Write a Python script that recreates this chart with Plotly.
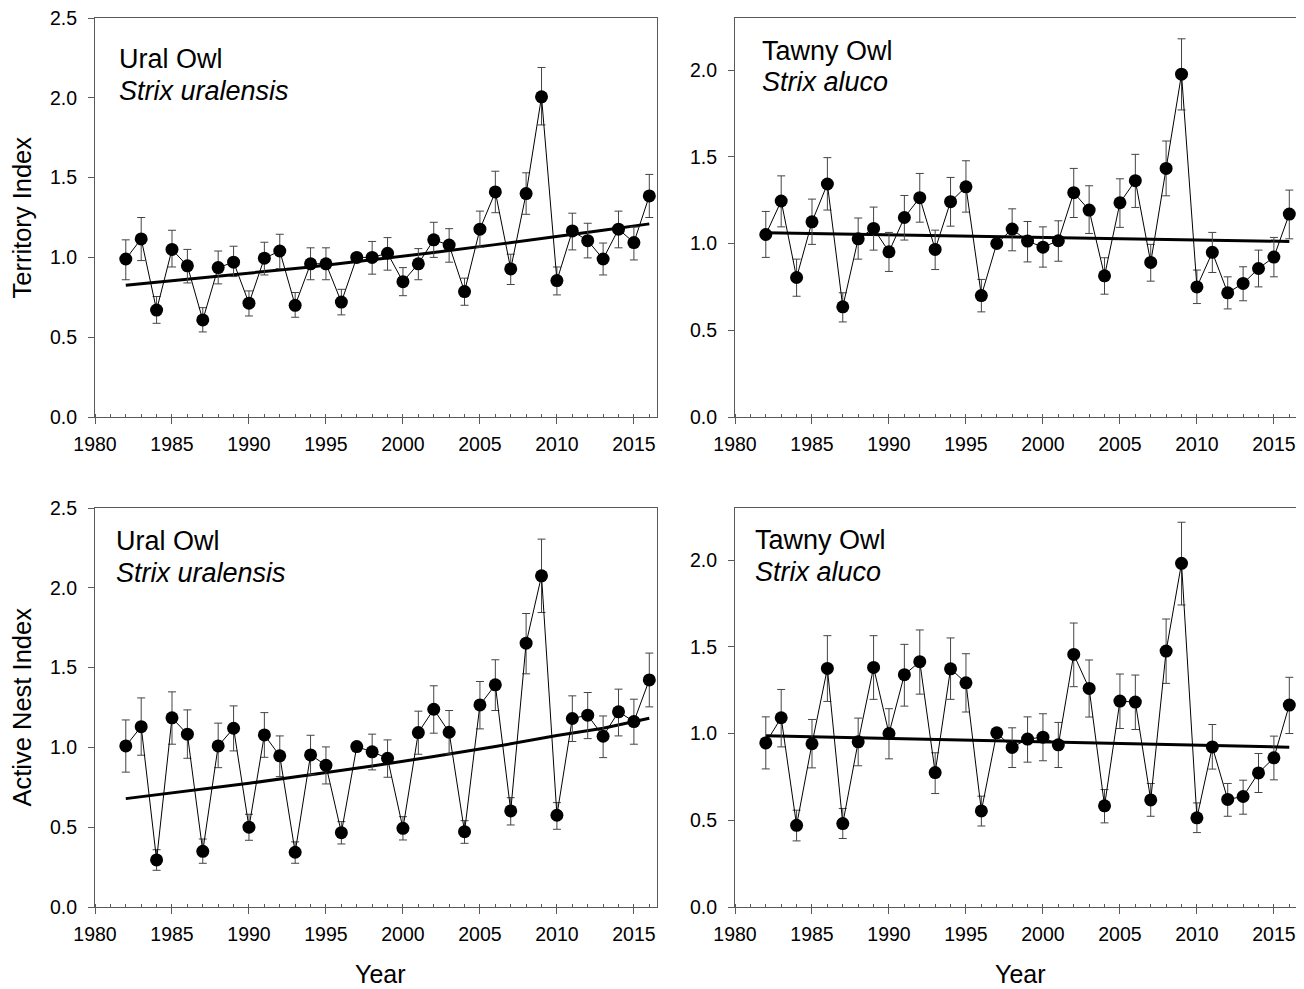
import plotly.graph_objects as go

# ---------------- data ----------------
years = list(range(1982, 2017))

ural_terr = [0.99, 1.116, 0.67, 1.05, 0.947, 0.608, 0.936, 0.97, 0.713, 0.995, 1.04, 0.70, 0.96, 0.96, 0.72, 1.00, 1.00,
             1.026, 0.848, 0.96, 1.11, 1.077, 0.786, 1.177, 1.41, 0.928, 1.40, 2.006, 0.855, 1.166, 1.105, 0.99, 1.177, 1.093, 1.385]
ural_terr_hi = [1.11, 1.25, 0.755, 1.17, 1.05, 0.685, 1.04, 1.07, 0.79, 1.095, 1.145, 0.78, 1.06, 1.06, 0.80, 1.00, 1.10,
                1.124, 0.936, 1.055, 1.22, 1.18, 0.87, 1.29, 1.54, 1.02, 1.53, 2.19, 0.94, 1.277, 1.214, 1.09, 1.29, 1.19, 1.52]
ural_terr_lo = [0.86, 0.98, 0.587, 0.94, 0.84, 0.533, 0.834, 0.88, 0.633, 0.89, 0.93, 0.625, 0.86, 0.86, 0.64, 1.00, 0.895,
                0.92, 0.76, 0.86, 1.00, 0.97, 0.70, 1.064, 1.28, 0.83, 1.27, 1.83, 0.765, 1.047, 0.997, 0.89, 1.06, 0.984, 1.25]

tawny_terr = [1.052, 1.245, 0.804, 1.125, 1.343, 0.635, 1.027, 1.087, 0.952, 1.15, 1.264, 0.966, 1.241, 1.327, 0.70, 1.00, 1.083,
              1.014, 0.979, 1.016, 1.293, 1.193, 0.814, 1.235, 1.362, 0.891, 1.433, 1.976, 0.75, 0.949, 0.716, 0.77, 0.856, 0.922, 1.17]
tawny_terr_hi = [1.185, 1.39, 0.91, 1.256, 1.495, 0.716, 1.147, 1.21, 1.064, 1.277, 1.404, 1.077, 1.381, 1.477, 0.793, 1.00, 1.20,
                 1.127, 1.096, 1.131, 1.433, 1.333, 0.918, 1.373, 1.514, 0.995, 1.591, 2.18, 0.847, 1.064, 0.808, 0.866, 0.962, 1.035, 1.308]
tawny_terr_lo = [0.92, 1.096, 0.696, 0.995, 1.193, 0.548, 0.91, 0.962, 0.839, 1.02, 1.123, 0.85, 1.10, 1.181, 0.606, 1.00, 0.958,
                 0.894, 0.864, 0.898, 1.15, 1.058, 0.708, 1.093, 1.208, 0.783, 1.275, 1.77, 0.654, 0.833, 0.623, 0.67, 0.75, 0.808, 1.027]

ural_nest = [1.009, 1.13, 0.295, 1.185, 1.083, 0.349, 1.009, 1.12, 0.50, 1.078, 0.947, 0.343, 0.953, 0.888, 0.466, 1.005, 0.972,
             0.932, 0.493, 1.093, 1.239, 1.095, 0.472, 1.266, 1.392, 0.602, 1.653, 2.075, 0.575, 1.181, 1.202, 1.07, 1.223, 1.162, 1.423]
ural_nest_hi = [1.172, 1.31, 0.359, 1.348, 1.235, 0.426, 1.152, 1.26, 0.581, 1.218, 1.072, 0.408, 1.076, 1.003, 0.535, 1.005, 1.083,
                1.047, 0.566, 1.227, 1.386, 1.231, 0.541, 1.413, 1.549, 0.685, 1.839, 2.305, 0.654, 1.323, 1.344, 1.197, 1.365, 1.302, 1.591]
ural_nest_lo = [0.845, 0.951, 0.23, 1.02, 0.932, 0.274, 0.873, 0.978, 0.418, 0.938, 0.817, 0.274, 0.828, 0.771, 0.395, 1.005, 0.859,
                0.813, 0.42, 0.957, 1.089, 0.959, 0.399, 1.116, 1.231, 0.514, 1.461, 1.845, 0.487, 1.037, 1.055, 0.936, 1.072, 1.02, 1.254]

tawny_nest = [0.946, 1.091, 0.471, 0.941, 1.375, 0.481, 0.952, 1.381, 1.0, 1.339, 1.414, 0.775, 1.373, 1.292, 0.554, 1.004, 0.92,
              0.968, 0.979, 0.935, 1.456, 1.26, 0.583, 1.187, 1.181, 0.617, 1.475, 1.981, 0.514, 0.923, 0.62, 0.637, 0.773, 0.86, 1.164]
tawny_nest_hi = [1.096, 1.254, 0.558, 1.081, 1.564, 0.568, 1.089, 1.564, 1.143, 1.514, 1.597, 0.889, 1.551, 1.46, 0.639, 1.004, 1.033,
                 1.096, 1.114, 1.064, 1.637, 1.424, 0.677, 1.343, 1.337, 0.712, 1.66, 2.218, 0.60, 1.052, 0.712, 0.731, 0.885, 0.985, 1.324]
tawny_nest_lo = [0.796, 0.923, 0.381, 0.802, 1.185, 0.395, 0.814, 1.197, 0.854, 1.158, 1.227, 0.654, 1.197, 1.124, 0.467, 1.004, 0.804,
                 0.835, 0.843, 0.804, 1.27, 1.095, 0.485, 1.029, 1.023, 0.523, 1.289, 1.741, 0.429, 0.795, 0.523, 0.535, 0.66, 0.733, 1.0]

trend_years = [1982, 1986, 1990, 1994, 1998, 2002, 2006, 2010, 2013, 2016]
ural_terr_trend = [0.825, 0.862, 0.90, 0.94, 0.985, 1.03, 1.08, 1.13, 1.17, 1.21]
tawny_terr_trend = [1.062, 1.056, 1.050, 1.044, 1.038, 1.033, 1.027, 1.021, 1.016, 1.012]
ural_nest_trend = [0.679, 0.725, 0.775, 0.828, 0.883, 0.943, 1.005, 1.075, 1.12, 1.183]
tawny_nest_trend = [0.987, 0.979, 0.971, 0.963, 0.956, 0.948, 0.940, 0.932, 0.927, 0.921]

x_ticks = [1980, 1985, 1990, 1995, 2000, 2005, 2010, 2015]
common_names = ["Ural Owl", "Tawny Owl", "Ural Owl", "Tawny Owl"]
latin_names = ["Strix uralensis", "Strix aluco", "Strix uralensis", "Strix aluco"]
y_titles = ["Territory Index", "Active Nest Index"]
x_title = "Year"

# ---------------- layout helpers ----------------
# the page body has an 8px margin, so the figure starts at (8, 8) of the window
OFF = 8
W, H = 1304 - OFF, 989 - OFF
FONT = "Liberation Sans, Arial, sans-serif"
AXC = "#5a5a5a"


def px_x(p):
    return (p - OFF) / W


def px_y(p):
    return 1 - (p - OFF) / H


# panels: (left, right, top, bottom) in window pixels, y max
panels = [
    (95, 657, 18, 417, 2.5),
    (735, 1297, 18, 417, 2.3),
    (95, 657, 508, 907, 2.5),
    (735, 1297, 508, 907, 2.3),
]

series = [
    (ural_terr, ural_terr_hi, ural_terr_lo, ural_terr_trend),
    (tawny_terr, tawny_terr_hi, tawny_terr_lo, tawny_terr_trend),
    (ural_nest, ural_nest_hi, ural_nest_lo, ural_nest_trend),
    (tawny_nest, tawny_nest_hi, tawny_nest_lo, tawny_nest_trend),
]

# title offsets (left offset from axis, cap-centre offsets from panel top)
title_pos = [(22, 41, 73), (25, 33, 64), (19, 33, 65), (18, 32, 64)]

fig = go.Figure()
layout = dict(
    width=W, height=H, autosize=False,
    margin=dict(l=0, r=0, t=0, b=0, pad=0, autoexpand=False),
    paper_bgcolor="white", plot_bgcolor="white",
    showlegend=False,
    font=dict(family=FONT, color="black", size=19.5),
)
annotations = []

for i, ((l, r, t, b, ymax), (vals, hi, lo, trend)) in enumerate(zip(panels, series)):
    n = "" if i == 0 else str(i + 1)
    xa, ya = "x" + n, "y" + n
    plus = [h - v for h, v in zip(hi, vals)]
    minus = [v - q for v, q in zip(vals, lo)]

    fig.add_trace(go.Scatter(
        x=trend_years, y=trend, mode="lines", xaxis=xa, yaxis=ya,
        line=dict(color="black", width=3), hoverinfo="skip"))
    fig.add_trace(go.Scatter(
        x=years, y=vals, mode="lines+markers", xaxis=xa, yaxis=ya,
        line=dict(color="black", width=1),
        marker=dict(color="black", size=13),
        error_y=dict(type="data", symmetric=False, array=plus, arrayminus=minus,
                     color="#444444", thickness=1, width=4)))

    layout["xaxis" + n] = dict(
        domain=[px_x(l), px_x(r)], anchor=ya, range=[1980, 2016.5], automargin=False,
        tickvals=x_ticks, ticks="outside", ticklen=6, tickwidth=1, tickcolor=AXC,
        ticklabelstandoff=4, ticklabeloverflow="allow",
        showline=True, linecolor=AXC, linewidth=1, mirror=True,
        showgrid=False, zeroline=False,
        minor=dict(dtick=1, tick0=1980, ticks="inside", ticklen=3, tickcolor=AXC, tickwidth=1, showgrid=False),
        tickfont=dict(size=19.5, family=FONT, color="black"),
    )
    layout["yaxis" + n] = dict(
        domain=[px_y(b), px_y(t)], anchor=xa, range=[0, ymax], automargin=False,
        tickvals=[k * 0.5 for k in range(6) if k * 0.5 <= ymax + 1e-9], tickformat=".1f",
        ticks="outside", ticklen=6, tickwidth=1, tickcolor=AXC,
        ticklabelstandoff=7, ticklabeloverflow="allow",
        showline=True, linecolor=AXC, linewidth=1, mirror=True,
        showgrid=False, zeroline=False,
        tickfont=dict(size=19.5, family=FONT, color="black"),
    )

    dx, c1, c2 = title_pos[i]
    annotations.append(dict(
        text=common_names[i], x=px_x(l + dx), y=px_y(t + c1), xref="paper", yref="paper",
        xanchor="left", yanchor="middle", showarrow=False,
        font=dict(size=27, family=FONT, color="black")))
    annotations.append(dict(
        text="<i>" + latin_names[i] + "</i>", x=px_x(l + dx), y=px_y(t + c2), xref="paper", yref="paper",
        xanchor="left", yanchor="middle", showarrow=False,
        font=dict(size=27, family=FONT, color="black")))

    if i in (0, 2):
        annotations.append(dict(
            text=y_titles[i // 2], x=px_x(21), y=px_y((t + b) / 2), xref="paper", yref="paper",
            xanchor="center", yanchor="middle", textangle=-90, showarrow=False,
            font=dict(size=25.5, family=FONT, color="black")))
    if i in (2, 3):
        annotations.append(dict(
            text=x_title, x=px_x((l + r) / 2 + 4), y=px_y(974), xref="paper", yref="paper",
            xanchor="center", yanchor="middle", showarrow=False,
            font=dict(size=25, family=FONT, color="black")))

layout["annotations"] = annotations
fig.update_layout(**layout)
fig.write_html("out.html")
